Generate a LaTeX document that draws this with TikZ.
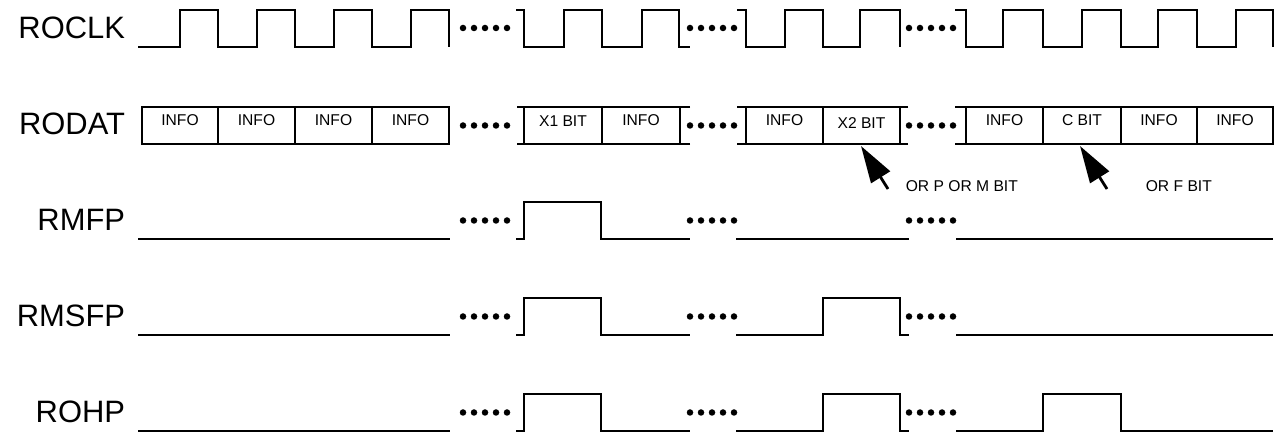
\documentclass[tikz,border=0pt]{standalone}
\usepackage{fontspec}
\setmainfont{Liberation Sans}
\usetikzlibrary{arrows.meta}
\begin{document}
\begin{tikzpicture}[x=0.02cm,y=-0.02cm,line width=1.1pt,line join=miter,>={Triangle[length=0.74cm,width=0.44cm]}]
	\tikzset{lbl/.style={anchor=east,inner sep=0pt,font=\fontsize{17.6}{21}\selectfont},
		cell/.style={font=\fontsize{8.9}{10}\selectfont},
		note/.style={anchor=west,font=\fontsize{8.9}{10}\selectfont},
		gap/.pic={\foreach \k in {0,1,...,4}\fill(\k*11,0)circle(1.85pt);}}
	\useasboundingbox(0,0)rectangle(1279,435);
	%Tên tín hiệu
	\foreach \t [count=\k from 0] in {ROCLK,RODAT,RMFP,RMSFP,ROHP}
	\node[lbl](l\t) at (126,28+96*\k){\t};
	%Chấm ngắt quãng
	\foreach \x in {463,690,909}
	\foreach \y in {28,125.5,220.5,316.5,412.5}
	\path(\x,\y)pic{gap};
	%ROCLK
	\draw(138,47)foreach \r/\f in {180/218,257/295,334/372,411/449}{--(\r,47)--(\r,10)--(\f,10)--(\f,47)};
	\draw(516,10)--(524,10)--(524,47)foreach \r/\f in {564/602,642/679}{--(\r,47)--(\r,10)--(\f,10)--(\f,47)}--(690,47);
	\draw(737,10)--(746,10)--(746,47)foreach \r/\f in {785/823,860/900}{--(\r,47)--(\r,10)--(\f,10)--(\f,47)};
	\draw(955,10)--(966,10)--(966,47)foreach \r/\f in {1003/1043,1082/1121,1158/1197,1236/1273}{--(\r,47)--(\r,10)--(\f,10)--(\f,47)};
	%RODAT
	\foreach \a/\b/\y/\t in {142/218/120/INFO,218/295/120/INFO,295/372/120/INFO,372/449/120/INFO,524/602/121/X1 BIT,602/680/120/INFO,746/823/120/INFO,823/900/123/X2 BIT,966/1043/120/INFO,1043/1121/120/C BIT,1121/1197/120/INFO,1197/1273/120/INFO}{
		\draw(\a,107)rectangle(\b,144);
		\node[cell](c\a) at ({(\a+\b)/2},\y){\t};}
	\foreach \x/\d in {524/-7,680/10,746/-9,900/8,966/-11}
	\draw(\x+\d,107)--(\x,107)(\x+\d,144)--(\x,144);
	\coordinate(tP) at (861,146);\coordinate(sP) at (888,189);
	\coordinate(tF) at (1080,146);\coordinate(sF) at (1107,189);
	\draw[->,line width=1.6pt](sP)--(tP);
	\draw[->,line width=1.6pt](sF)--(tF);
	\node[note](nP) at (899,186){OR P OR M BIT};
	\node[note](nF) at (1139,186){OR F BIT};
	%RMFP
	\begin{scope}[shift={(0,192)}]
		\draw(138,47)--(450,47);
		\draw(516,47)--(524,47)--(524,10)--(601,10)--(601,47)--(690,47);
		\draw(736,47)--(909,47);
		\draw(956,47)--(1273,47);
	\end{scope}
	%RMSFP
	\begin{scope}[shift={(0,288)}]
		\draw(138,47)--(450,47);
		\draw(516,47)--(524,47)--(524,10)--(601,10)--(601,47)--(690,47);
		\draw(736,47)--(823,47)--(823,10)--(900,10)--(900,47)--(909,47);
		\draw(956,47)--(1273,47);
	\end{scope}
	%ROHP
	\begin{scope}[shift={(0,384)}]
		\draw(138,47)--(450,47);
		\draw(516,47)--(524,47)--(524,10)--(601,10)--(601,47)--(690,47);
		\draw(736,47)--(823,47)--(823,10)--(900,10)--(900,47)--(909,47);
		\draw(956,47)--(1043,47)--(1043,10)--(1121,10)--(1121,47)--(1273,47);
	\end{scope}
\end{tikzpicture}
\end{document}
